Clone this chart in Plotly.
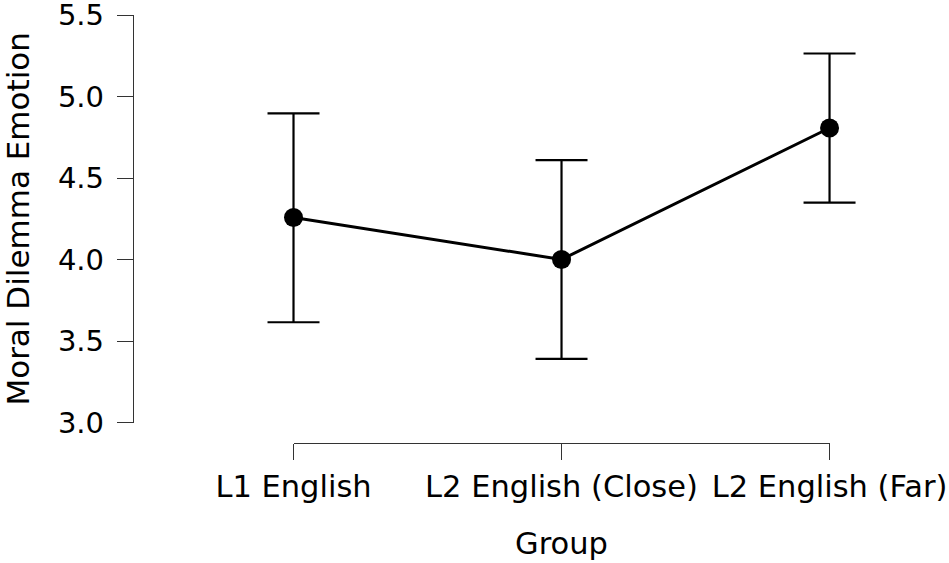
import plotly.graph_objects as go

# Descriptives plot: mean with 95% CI per group
groups = ["L1 English", "L2 English (Close)", "L2 English (Far)"]
means = [4.258, 4.001, 4.807]
ci_upper = [4.897, 4.610, 5.264]
ci_lower = [3.616, 3.391, 4.349]
y_ticks = [3.0, 3.5, 4.0, 4.5, 5.0, 5.5]

FONT = "DejaVu Sans"
AXIS_COLOR = "#333333"

x_pos = list(range(len(groups)))
err_plus = [u - m for u, m in zip(ci_upper, means)]
err_minus = [m - lo for m, lo in zip(means, ci_lower)]

# category axis only spans first..last group (JASP-style ranged axis)
CAT_DOMAIN = [0.1967, 0.8536]
units_per_domain = (len(groups) - 1) / (CAT_DOMAIN[1] - CAT_DOMAIN[0])
data_range = [
    -CAT_DOMAIN[0] * units_per_domain,
    (len(groups) - 1) + (1 - CAT_DOMAIN[1]) * units_per_domain,
]

fig = go.Figure()
fig.add_trace(
    go.Scatter(
        x=x_pos,
        y=means,
        mode="lines+markers",
        line=dict(color="black", width=3),
        marker=dict(color="black", size=19),
        error_y=dict(
            type="data",
            array=err_plus,
            arrayminus=err_minus,
            color="black",
            thickness=2.2,
            width=26,
        ),
        showlegend=False,
        hoverinfo="x+y",
    )
)
# invisible twin so the ranged category axis gets drawn
fig.add_trace(
    go.Scatter(
        x=x_pos,
        y=means,
        xaxis="x2",
        mode="markers",
        marker=dict(opacity=0),
        showlegend=False,
        hoverinfo="skip",
    )
)

axis_style = dict(
    ticks="outside",
    ticklen=16,
    tickwidth=1.3,
    tickcolor=AXIS_COLOR,
    showline=True,
    linecolor=AXIS_COLOR,
    linewidth=1.3,
    showgrid=False,
    zeroline=False,
    automargin=False,
    ticklabeloverflow="allow",
)

fig.update_layout(
    width=949,
    height=563,
    margin=dict(l=133, r=0, t=15, b=120),
    paper_bgcolor="white",
    # transparent so the second subplot doesn't paint over the data
    plot_bgcolor="rgba(0,0,0,0)",
    font=dict(family=FONT, color="black", size=29),
    xaxis=dict(
        domain=[0, 1],
        range=data_range,
        visible=False,
    ),
    xaxis2=dict(
        domain=CAT_DOMAIN,
        range=[0, len(groups) - 1],
        anchor="free",
        position=0,
        tickmode="array",
        tickvals=x_pos,
        ticktext=groups,
        tickfont=dict(size=30.5),
        title=dict(text="Group", font=dict(size=30.5), standoff=29),
        **axis_style,
    ),
    yaxis=dict(
        domain=[0.0474, 1],
        range=[3.0, 5.5],
        anchor="free",
        position=0,
        tickmode="array",
        tickvals=y_ticks,
        tickformat=".1f",
        tickfont=dict(size=29),
        ticklabelstandoff=7,
        title=dict(text="Moral Dilemma Emotion", font=dict(size=31), standoff=33),
        **axis_style,
    ),
)

# drop the default 8px body margin so the 949x563 figure fills the window
fig.write_html(
    "out.html",
    config={"displayModeBar": False},
    post_script="document.body.style.margin = '0';",
)
